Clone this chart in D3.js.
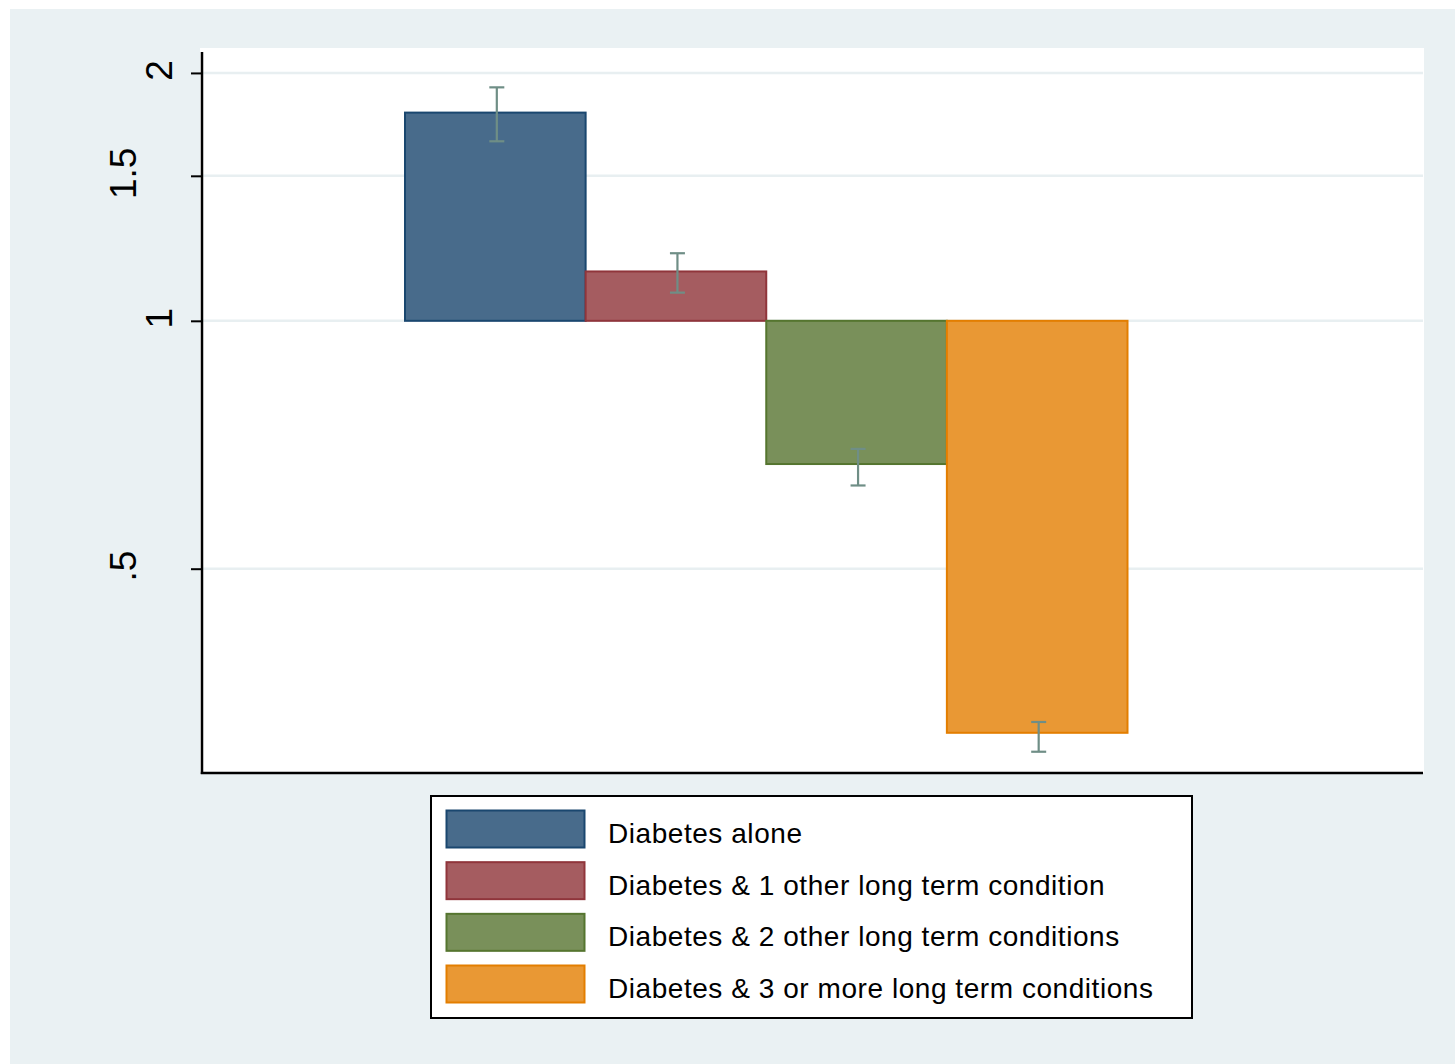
<!DOCTYPE html>
<html>
<head>
<meta charset="utf-8">
<script src="https://cdn.jsdelivr.net/npm/d3@7"></script>
<style>
  html, body { margin: 0; padding: 0; background: #ffffff; }
  svg { display: block; }
  text { font-family: "Liberation Sans", Arial, Helvetica, sans-serif; fill: #000; }
</style>
</head>
<body>
<svg id="chart" width="1455" height="1064"></svg>
<script>
// Groups, point estimates (ratio scale, baseline 1) and 95% intervals
const categories = [
  "Diabetes alone",
  "Diabetes & 1 other long term condition",
  "Diabetes & 2 other long term conditions",
  "Diabetes & 3 or more long term conditions"
];
const estimates = [1.790, 1.148, 0.670, 0.316];
const lowerCI   = [1.652, 1.082, 0.631, 0.2997];
const upperCI   = [1.921, 1.208, 0.699, 0.3257];
const yTicks      = [0.5, 1, 1.5, 2];
const yTickLabels = [".5", "1", "1.5", "2"];
const fills   = ["#486b8b", "#a55c60", "#79905a", "#e99834"];
const strokes = ["#1a476f", "#90353b", "#55752f", "#e37e00"];

const svg = d3.select("#chart");

// Outer graph region
svg.append("rect")
  .attr("x", 10).attr("y", 9).attr("width", 1445).attr("height", 1055)
  .attr("fill", "#eaf1f3");

const plot = { left: 202, right: 1423, top: 48, bottom: 773 };

// Plot region
svg.append("rect")
  .attr("x", plot.left - 2).attr("y", plot.top)
  .attr("width", plot.right - plot.left + 3).attr("height", plot.bottom - plot.top)
  .attr("fill", "#ffffff");

const y = d3.scaleLog().domain([0.2824, 2.1444]).range([plot.bottom, plot.top]);
const x = d3.scaleBand().domain(categories).range([405, 1127.5]).padding(0);

// Horizontal grid lines
svg.append("g")
  .selectAll("line")
  .data(yTicks)
  .join("line")
  .attr("x1", plot.left).attr("x2", plot.right)
  .attr("y1", d => y(d)).attr("y2", d => y(d))
  .attr("stroke", "#e8eff1").attr("stroke-width", 2.5);

// Bars drawn from the reference value 1
const base = 1;
svg.append("g")
  .selectAll("rect")
  .data(categories)
  .join("rect")
  .attr("x", d => x(d))
  .attr("width", x.bandwidth())
  .attr("y", (d, i) => Math.min(y(estimates[i]), y(base)))
  .attr("height", (d, i) => Math.abs(y(estimates[i]) - y(base)))
  .attr("fill", (d, i) => fills[i])
  .attr("stroke", (d, i) => strokes[i])
  .attr("stroke-width", 2);

// Confidence interval spikes with caps
const eb = svg.append("g")
  .attr("stroke", "#6f8e86").attr("stroke-width", 2.2).attr("fill", "none");
const capHalf = 7.5;
categories.forEach((c, i) => {
  const cx = x(c) + x.bandwidth() / 2 + 1.5;
  eb.append("line").attr("x1", cx).attr("x2", cx)
    .attr("y1", y(lowerCI[i])).attr("y2", y(upperCI[i]));
  [lowerCI[i], upperCI[i]].forEach(v => {
    eb.append("line")
      .attr("x1", cx - capHalf).attr("x2", cx + capHalf)
      .attr("y1", y(v)).attr("y2", y(v));
  });
});

// Y axis (labels alternate between two rows)
const yAxis = d3.axisLeft(y)
  .tickValues(yTicks)
  .tickFormat((d, i) => yTickLabels[i])
  .tickSize(11)
  .tickSizeOuter(0);
const gy = svg.append("g")
  .attr("transform", `translate(${plot.left},0)`)
  .call(yAxis);
gy.select(".domain").remove();
gy.selectAll(".tick line").attr("stroke", "#000").attr("stroke-width", 2);
gy.selectAll(".tick text")
  .attr("x", 0).attr("dy", null)
  .attr("transform", (d, i) => `translate(${i % 2 === 0 ? -66 : -30},-3) rotate(-90)`)
  .attr("text-anchor", "middle")
  .attr("font-size", 37)
  .style("font-family", "'Liberation Sans', Arial, sans-serif");

svg.append("line")
  .attr("x1", plot.left).attr("x2", plot.left)
  .attr("y1", plot.top + 4).attr("y2", plot.bottom + 1)
  .attr("stroke", "#000").attr("stroke-width", 2.5);

// X axis line
svg.append("line")
  .attr("x1", plot.left - 1.2).attr("x2", plot.right)
  .attr("y1", plot.bottom).attr("y2", plot.bottom)
  .attr("stroke", "#000").attr("stroke-width", 2.5);

// Legend
const legend = svg.append("g");
legend.append("rect")
  .attr("x", 431).attr("y", 796).attr("width", 761).attr("height", 222)
  .attr("fill", "#ffffff").attr("stroke", "#000").attr("stroke-width", 2);

const rowY = d3.scalePoint().domain(categories).range([829, 984]);
const rows = legend.selectAll("g.row")
  .data(categories)
  .join("g").attr("class", "row");
rows.append("rect")
  .attr("x", 446.5).attr("width", 138)
  .attr("y", d => rowY(d) - 18.5).attr("height", 37)
  .attr("fill", (d, i) => fills[i])
  .attr("stroke", (d, i) => strokes[i])
  .attr("stroke-width", 2);
rows.append("text")
  .attr("x", 608)
  .attr("y", d => rowY(d) + 14)
  .attr("font-size", 28)
  .attr("letter-spacing", 0.55)
  .text(d => d);
</script>
</body>
</html>
